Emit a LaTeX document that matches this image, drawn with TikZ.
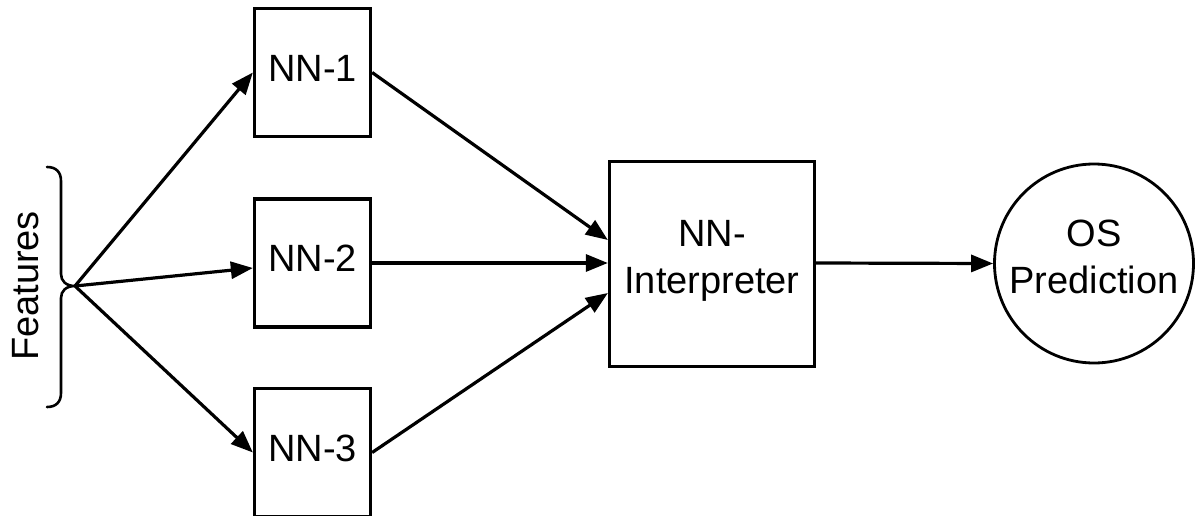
\documentclass[tikz,border=0pt]{standalone}
\usepackage{fontspec}
\setmainfont{Liberation Sans}
\usetikzlibrary{arrows.meta}
\begin{document}
\begin{tikzpicture}[x=1pt,y=-1pt,
  every node/.style={font=\fontsize{38}{47}\selectfont},
  netbox/.style={draw, line width=3.3pt, minimum width=116pt, minimum height=128pt, inner sep=0pt},
  bigbox/.style={draw, line width=3.3pt, minimum width=205pt, minimum height=205pt, inner sep=0pt},
  outcircle/.style={draw, circle, line width=2.8pt, minimum size=199pt, inner sep=0pt},
  txt/.style={inner sep=0pt, align=center},
  flow/.style={line width=3.2pt, -{Triangle[length=22pt,width=17pt]}},
  bracket/.style={line width=2.6pt, line cap=round, line join=round}]
\useasboundingbox (0,0) rectangle (1196,516);

% network boxes
\node[netbox, label={[txt,yshift=4.5pt]center:NN-1}] (nn1) at (312.5,72.5) {};
\node[netbox, label={[txt,yshift=4.5pt]center:NN-2}] (nn2) at (312.5,263) {};
\node[netbox, label={[txt,yshift=4.5pt]center:NN-3}] (nn3) at (312.5,452.5) {};

% interpreter and output
\node[bigbox, label={[txt,yshift=3pt]center:NN-\\Interpreter}] (int) at (712,264) {};
\node[outcircle, label={[txt,yshift=6.5pt]center:OS\\Prediction}] (os) at (1094,263.5) {};

% feature bracket
\coordinate (tip) at (75,286);
\draw[bracket] (47,167) .. controls (56,167) and (61,172) .. (61,181)
  -- (61,274) .. controls (61,281) and (66,286) .. (tip)
  .. controls (66,286) and (61,291) .. (61,298)
  -- (61,393) .. controls (61,402) and (56,407) .. (47,407);
\node[txt, rotate=90] (feat) at (26,286) {Features};

% connectors
\draw[flow] (tip) -- (nn1.west);
\draw[flow] (tip) -- ([yshift=-5pt]nn2.west);
\draw[flow] (tip) -- (nn3.west);
\draw[flow] (nn1.east) -- ([yshift=24pt]int.west);
\draw[flow] (nn2.east) -- ([yshift=1pt]int.west);
\draw[flow] (nn3.east) -- ([yshift=-29pt]int.west);
\draw[flow] ([yshift=1pt]int.east) -- (os.west);
\end{tikzpicture}
\end{document}
